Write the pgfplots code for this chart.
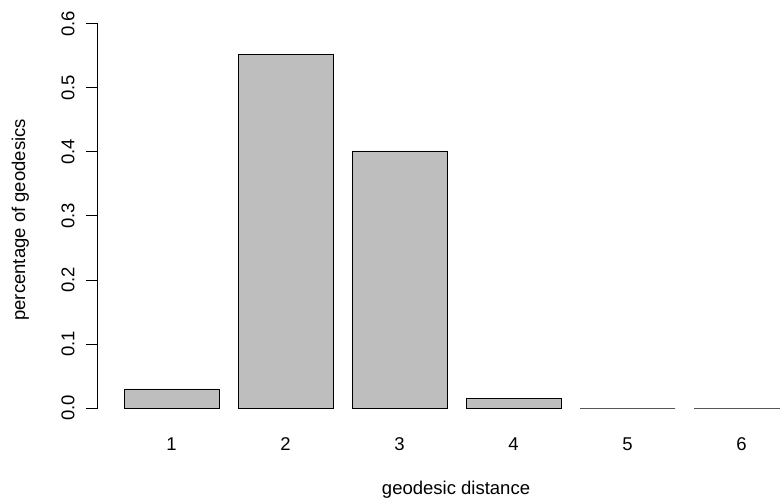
\documentclass[border=0pt]{standalone}
\usepackage{fontspec}
\setmainfont{Liberation Sans}
\usepackage{pgfplots}
\pgfplotsset{compat=1.18}
\definecolor{bargray}{RGB}{190,190,190}
\begin{document}
\begin{tikzpicture}
\useasboundingbox (0,0) rectangle (780pt,499pt);
\begin{axis}[
  at={(98pt,91pt)}, anchor=south west,
  scale only axis, width=682pt, height=384pt,
  xmin=-0.0737, xmax=7.105, ymin=0, ymax=0.6,
  clip=false,
  axis x line*=bottom, axis y line*=left,
  x axis line style={draw=none},
  y axis line style={line width=1pt, black},
  xtick={0.7,1.9,3.1,4.3,5.5,6.7},
  xticklabels={1,2,3,4,5,6},
  xtick style={draw=none},
  ytick={0,0.1,0.2,0.3,0.4,0.5,0.6},
  ytick style={line width=1pt, black},
  tick align=outside,
  major tick length=12pt,
  /pgf/number format/assume math mode=true,
  /pgf/number format/fixed,
  /pgf/number format/fixed zerofill,
  /pgf/number format/precision=1,
  tick label style={font=\fontsize{18.5}{22}\selectfont},
  yticklabel style={rotate=90, anchor=south},
  yticklabel shift=8pt,
  xticklabel style={anchor=base, yshift=-30pt},
  every axis x label/.style={at={(axis description cs:0.525,-0.224)}, anchor=base, font=\fontsize{18.5}{22}\selectfont},
  every axis y label/.style={at={(axis description cs:-0.107,0.49)}, rotate=90, anchor=base, font=\fontsize{18.5}{22}\selectfont},
  xlabel={geodesic distance},
  ylabel={percentage of geodesics},
]
\addplot[ybar, bar width=1, fill=bargray, draw=black, line width=0.9pt]
  coordinates {(0.7,0.0297) (1.9,0.553) (3.1,0.4016) (4.3,0.0156) (5.5,0) (6.7,0)};
\end{axis}
\end{tikzpicture}
\end{document}
